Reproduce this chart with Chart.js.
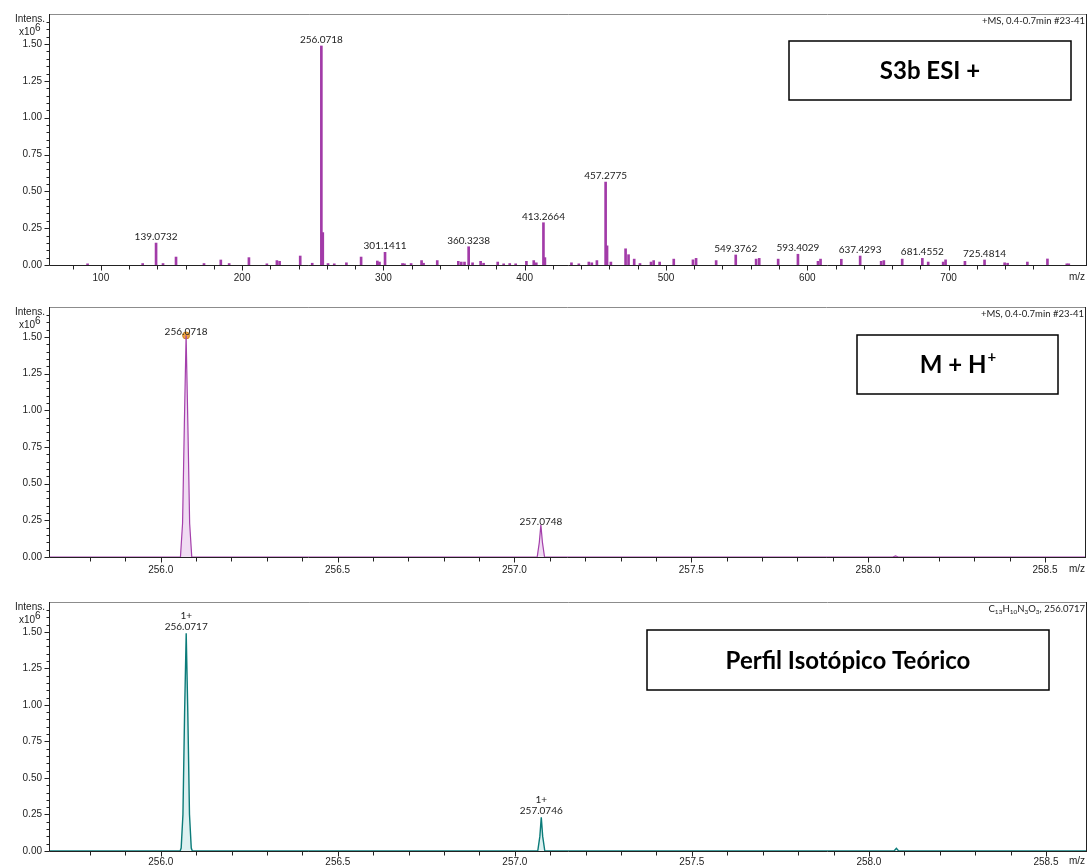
<!DOCTYPE html>
<html>
<head>
<meta charset="utf-8">
<script src="https://cdn.jsdelivr.net/npm/chart.js@4.4.1/dist/chart.umd.min.js"></script>
<style>
  html, body { margin: 0; padding: 0; background: #fff; }
  #wrap { position: relative; width: 1091px; height: 868px; }
  canvas { position: absolute; left: 0; }
</style>
</head>
<body>
<div id="wrap">
  <canvas id="ms1" width="1091" height="290" style="top:0"></canvas>
  <canvas id="ms2" width="1091" height="289" style="top:293px"></canvas>
  <canvas id="ms3" width="1091" height="280" style="top:588px"></canvas>
</div>
<script>
// survey spectrum (centroid sticks), intensity in x10^6
const surveyMz = [90.6, 129.6, 139.0732, 144.0, 153.2, 173.0, 184.9, 190.8, 204.8, 217.5,
  224.6, 226.5, 241.1, 249.6, 256.0718, 257.0748, 260.8, 265.2, 273.8, 284.2,
  295.7, 297.2, 301.1411, 313.5, 314.9, 319.6, 327.0, 328.4, 338.1, 353.0,
  355.1, 357.4, 360.3238, 363.1, 368.8, 370.9, 380.9, 385.1, 389.4, 393.6,
  401.2, 406.4, 408.2, 413.2664, 414.3, 433.1, 438.3, 445.4, 447.5, 451.1,
  457.2775, 458.28, 461.0, 471.4, 473.5, 477.5, 481.6, 489.4, 491.3, 495.5,
  505.5, 519.1, 521.3, 535.5, 549.3762, 563.8, 566.0, 579.4, 593.4029, 607.6,
  609.4, 624.1, 637.4293, 652.3, 654.2, 667.2, 681.4552, 685.6, 696.2, 697.9,
  711.6, 725.4814, 739.7, 741.8, 755.8, 770.0, 783.7, 785.1]
const surveyInt = [0.008, 0.01, 0.149, 0.01, 0.054, 0.01, 0.034, 0.01, 0.05, 0.008,
  0.03, 0.025, 0.061, 0.012, 1.487, 0.22, 0.01, 0.008, 0.015, 0.054,
  0.027, 0.02, 0.086, 0.01, 0.008, 0.01, 0.03, 0.012, 0.03, 0.025,
  0.02, 0.02, 0.124, 0.015, 0.025, 0.012, 0.02, 0.008, 0.01, 0.008,
  0.025, 0.03, 0.015, 0.287, 0.05, 0.015, 0.008, 0.02, 0.015, 0.03,
  0.563, 0.13, 0.02, 0.11, 0.07, 0.04, 0.01, 0.02, 0.03, 0.02,
  0.04, 0.035, 0.045, 0.03, 0.068, 0.04, 0.045, 0.04, 0.073, 0.025,
  0.04, 0.039, 0.061, 0.025, 0.03, 0.04, 0.045, 0.02, 0.02, 0.035,
  0.025, 0.034, 0.015, 0.012, 0.02, 0.041, 0.008, 0.008]
const surveyLabels = [139.0732, 256.0718, 301.1411, 360.3238, 413.2664, 457.2775,
  549.3762, 593.4029, 637.4293, 681.4552, 725.4814]

// measured profile around the molecular ion
const measMz = [255.687, 256.0558, 256.0618, 256.0668, 256.0718, 256.0768, 256.0818, 256.0878,
  257.0644, 257.0704, 257.0748, 257.0792, 257.0852, 258.070, 258.0776, 258.085, 258.616]
const measInt = [0, 0, 0.23, 0.9, 1.51, 0.9, 0.23, 0,
  0, 0.1, 0.22, 0.1, 0, 0, 0.008, 0, 0]
const measLabels = [256.0718, 257.0748]

// theoretical isotope pattern C13H10N3O3
const isoMz = [255.687, 256.0545, 256.0575, 256.0625, 256.0672, 256.0717, 256.0762, 256.081, 256.086, 256.089,
  257.0646, 257.0706, 257.0746, 257.0786, 257.0846, 258.071, 258.0776, 258.084, 258.616]
const isoInt = [0, 0, 0.02, 0.25, 0.95, 1.49, 0.95, 0.25, 0.02, 0,
  0, 0.1, 0.23, 0.1, 0, 0, 0.018, 0, 0]
const isoLabels = [256.0717, 257.0746]

const yTop = 1.704
const axisFont = { family: '"Liberation Sans", Arial, sans-serif', size: 10 }
const noteFont = 'Lato, "Open Sans", sans-serif'

const isMult = (v, s) => Math.abs(v / s - Math.round(v / s)) < 1e-6

function pick(mzs, ints, m) {
  return ints[mzs.findIndex(v => Math.abs(v - m) < 1e-6)]
}

// draw text pieces right-aligned, pieces marked sub are smaller and lowered
function rightRich(ctx, parts, xr, yb) {
  const big = '9.5px ' + noteFont, small = '6.5px ' + noteFont
  let w = 0
  parts.forEach(p => { ctx.font = p.sub ? small : big; w += ctx.measureText(p.t).width })
  let xx = xr - w
  ctx.textAlign = 'left'
  parts.forEach(p => {
    ctx.font = p.sub ? small : big
    ctx.fillText(p.t, xx, yb + (p.sub ? 2 : 0))
    xx += ctx.measureText(p.t).width
  })
}

const decor = {
  id: 'decor',
  afterDraw(chart, args, o) {
    const { ctx, chartArea: a, scales: { x, y } } = chart
    ctx.save()
    ctx.lineWidth = 1
    // frame
    ctx.strokeStyle = '#8c8c8c'
    ctx.beginPath()
    ctx.moveTo(a.left, a.top + 0.5)
    ctx.lineTo(a.right - 0.5, a.top + 0.5)
    ctx.stroke()
    ctx.strokeStyle = '#222'
    ctx.beginPath()
    ctx.moveTo(a.right - 0.5, a.top)
    ctx.lineTo(a.right - 0.5, a.bottom)
    ctx.moveTo(a.left - 0.5, a.top)
    ctx.lineTo(a.left - 0.5, a.bottom + 0.5)
    ctx.lineTo(a.right, a.bottom + 0.5)
    y.ticks.forEach(t => {
      const py = Math.round(y.getPixelForValue(t.value)) + 0.5
      const len = isMult(t.value, 0.25) ? 5 : 3
      ctx.moveTo(a.left - 0.5, py)
      ctx.lineTo(a.left - 0.5 - len, py)
    })
    x.ticks.forEach(t => {
      const px = Math.round(x.getPixelForValue(t.value)) + 0.5
      const len = isMult(t.value, o.xMajor) ? 5 : 4
      ctx.moveTo(px, a.bottom + 0.5)
      ctx.lineTo(px, a.bottom + 0.5 + len)
    })
    ctx.stroke()

    // axis captions
    ctx.fillStyle = '#222'
    ctx.font = '10px "Liberation Sans", Arial, sans-serif'
    ctx.textAlign = 'right'
    ctx.textBaseline = 'middle'
    ctx.fillText('Intens.', 45, a.top + 5)
    ctx.fillText('x10', 35, a.top + 18)
    ctx.textAlign = 'left'
    ctx.fillText('6', 35, a.top + 14)
    ctx.textAlign = 'center'
    ctx.fillText('m/z', 1077, a.bottom + o.mzDy)

    // run info top right
    ctx.textBaseline = 'alphabetic'
    rightRich(ctx, o.header, a.right - 2, a.top + 10)

    // peak annotations
    ctx.font = '10px ' + noteFont
    ctx.textAlign = 'center'
    o.labels.forEach(p => {
      const px = x.getPixelForValue(p.mz)
      const py = y.getPixelForValue(p.val) - o.dy
      ctx.fillText(p.mz.toFixed(4), px, py)
      if (o.charge) ctx.fillText(o.charge, px, py - 11)
    })

    // title box
    const b = o.box
    ctx.lineWidth = 1.5
    ctx.strokeStyle = '#000'
    ctx.strokeRect(b.x0, b.y0, b.x1 - b.x0, b.y1 - b.y0)
    ctx.fillStyle = '#000'
    ctx.font = 'bold 24px ' + noteFont
    ctx.textBaseline = 'middle'
    const cx = (b.x0 + b.x1) / 2, cy = (b.y0 + b.y1) / 2
    if (b.sup) {
      const w1 = ctx.measureText(b.text).width
      ctx.font = 'bold 15px ' + noteFont
      const w2 = ctx.measureText(b.sup).width
      const sx = cx - (w1 + w2) / 2
      ctx.textAlign = 'left'
      ctx.fillText(b.sup, sx + w1 + 1, cy - 7)
      ctx.font = 'bold 24px ' + noteFont
      ctx.fillText(b.text, sx, cy + 1)
    } else {
      ctx.textAlign = 'center'
      ctx.fillText(b.text, cx, cy + 1)
    }
    ctx.restore()
  }
}

function axes(min, max, step, major, digits, xHeight, xPad) {
  return {
    x: {
      type: 'linear', min: min, max: max, offset: false,
      grid: { display: false, drawTicks: false, tickLength: 0 }, border: { display: false },
      afterBuildTicks: s => { s.ticks = s.ticks.filter(t => isMult(t.value, step)) },
      afterFit: s => { s.height = xHeight },
      ticks: {
        stepSize: step, autoSkip: false, maxRotation: 0, padding: xPad,
        font: axisFont, color: '#222',
        callback: v => isMult(v, major) ? v.toFixed(digits) : ''
      }
    },
    y: {
      min: 0, max: yTop,
      grid: { display: false, drawTicks: false, tickLength: 0 }, border: { display: false },
      afterBuildTicks: s => { s.ticks = s.ticks.filter(t => isMult(t.value, 0.05)) },
      afterFit: s => { s.width = 50 },
      ticks: {
        stepSize: 0.05, autoSkip: false, padding: 8,
        font: axisFont, color: '#222',
        callback: v => isMult(v, 0.25) ? v.toFixed(2) : ''
      }
    }
  }
}

const common = {
  responsive: false,
  animation: false,
  layout: { padding: { top: 14, right: 4, left: 0, bottom: 0 } },
  events: []
}

const msHeader = [{ t: '+MS, 0.4-0.7min #23-41' }]
const formulaHeader = [{ t: 'C' }, { t: '13', sub: true }, { t: 'H' }, { t: '10', sub: true },
  { t: 'N' }, { t: '3', sub: true }, { t: 'O' }, { t: '3', sub: true }, { t: ', 256.0717' }]

new Chart(document.getElementById('ms1'), {
  type: 'bar',
  data: {
    datasets: [{
      data: surveyMz.map((m, i) => ({ x: m, y: surveyInt[i] })),
      backgroundColor: '#a23ba8',
      barThickness: 2
    }]
  },
  options: {
    ...common,
    scales: axes(64, 798, 20, 100, 0, 25, 7),
    plugins: {
      legend: { display: false }, tooltip: { enabled: false },
      decor: {
        xMajor: 100, dy: 3, mzDy: 12,
        header: msHeader,
        labels: surveyLabels.map(m => ({ mz: m, val: pick(surveyMz, surveyInt, m) })),
        box: { x0: 789, y0: 41, x1: 1071, y1: 100, text: 'S3b ESI +' }
      }
    }
  },
  plugins: [decor]
})

new Chart(document.getElementById('ms2'), {
  type: 'line',
  data: {
    datasets: [{
      data: measMz.map((m, i) => ({ x: m, y: measInt[i] })),
      borderColor: '#a43fab',
      backgroundColor: 'rgba(205, 140, 215, 0.3)',
      borderWidth: 1.2,
      fill: 'origin',
      pointRadius: 0,
      tension: 0
    }, {
      data: [{ x: measLabels[0], y: pick(measMz, measInt, measLabels[0]) }],
      pointRadius: 3.5,
      pointBackgroundColor: '#f2a43c',
      pointBorderColor: '#c98526',
      pointBorderWidth: 1,
      showLine: false
    }]
  },
  options: {
    ...common,
    scales: axes(255.687, 258.616, 0.1, 0.5, 1, 25, 7),
    plugins: {
      legend: { display: false }, tooltip: { enabled: false },
      decor: {
        xMajor: 0.5, dy: 0, mzDy: 12,
        header: msHeader,
        labels: measLabels.map(m => ({ mz: m, val: pick(measMz, measInt, m) })),
        box: { x0: 857, y0: 42, x1: 1058, y1: 101, text: 'M + H', sup: '+' }
      }
    }
  },
  plugins: [decor]
})

new Chart(document.getElementById('ms3'), {
  type: 'line',
  data: {
    datasets: [{
      data: isoMz.map((m, i) => ({ x: m, y: isoInt[i] })),
      borderColor: '#0b7b79',
      backgroundColor: 'rgba(120, 200, 200, 0.25)',
      borderWidth: 1.4,
      fill: 'origin',
      pointRadius: 0,
      tension: 0
    }]
  },
  options: {
    ...common,
    scales: axes(255.687, 258.616, 0.1, 0.5, 1, 17, 5),
    plugins: {
      legend: { display: false }, tooltip: { enabled: false },
      decor: {
        xMajor: 0.5, dy: 3, mzDy: 10, charge: '1+',
        header: formulaHeader,
        labels: isoLabels.map(m => ({ mz: m, val: pick(isoMz, isoInt, m) })),
        box: { x0: 647, y0: 42, x1: 1049, y1: 102, text: 'Perfil Isotópico Teórico' }
      }
    }
  },
  plugins: [decor]
})
</script>
</body>
</html>
